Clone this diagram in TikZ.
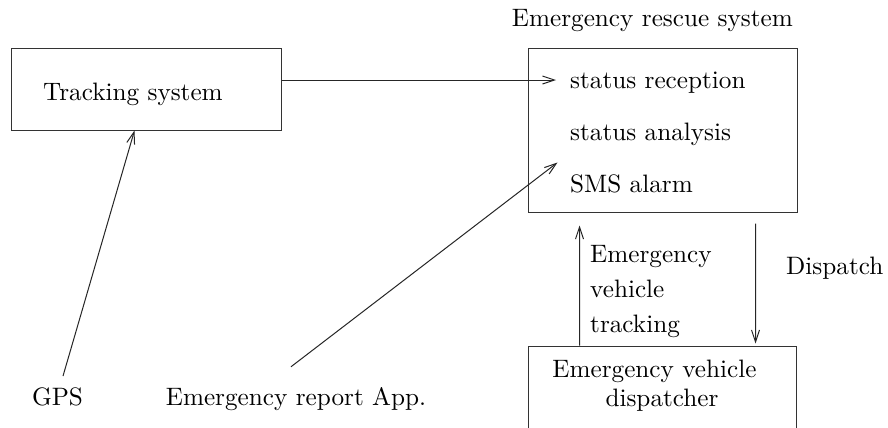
\documentclass[tikz,border=0pt]{standalone}
\usepackage{fontspec}
\setmainfont{lmroman10-regular.otf}
\usetikzlibrary{arrows.meta,calc}
\begin{document}
\begin{tikzpicture}[x=1bp,y=-1bp,
  every node/.style={font=\fontsize{25.2bp}{30bp}\selectfont, text=black},
  txt/.style={anchor=base west, inner sep=0pt},
  ctxt/.style={anchor=base, inner sep=0pt},
  boxnode/.style={draw=black!80, line width=1bp, inner sep=0pt},
  arr/.style={draw=black!85, line width=1bp, -{Straight Barb[length=12bp,width=8bp]}}]
\useasboundingbox (0,0) rectangle (888,427);
\clip (0,0) rectangle (888,427);
\fill[white] (0,0) rectangle (888,427);
% boxes
\node[boxnode, minimum width=269bp, minimum height=82bp] (track) at (146.5,89) {};
\node[boxnode, minimum width=269bp, minimum height=164bp] (rescue) at (662.5,130) {};
\node[boxnode, minimum width=268bp, minimum height=124bp] (disp) at (662,408) {};
% texts
\node[txt] (tracktxt) at (43,100) {Tracking system};
\node[anchor=base east, inner sep=0pt] (title) at (793,26) {Emergency rescue system};
\node[txt] (sr) at (570,88) {status reception};
\node[txt] (sa) at (570,140) {status analysis};
\node[txt] (sms) at (570,192) {SMS alarm};
\node[ctxt] (d1) at (654.5,377) {Emergency vehicle};
\node[ctxt] (d2) at (662,406) {dispatcher};
\node[txt] (t1) at (590,262) {Emergency};
\node[txt] (t2) at (590,297) {vehicle};
\node[txt] (t3) at (590,332) {tracking};
\node[txt] (dispatch) at (786,274) {Dispatch};
\node[ctxt] (gps) at (57.5,405) {GPS};
\node[ctxt] (report) at (296,405) {Emergency report App.};
% connectors
\coordinate (srIn) at ([xshift=-14bp, yshift=8bp]sr.base west);
\draw[arr] (track.east |- srIn) -- (srIn);
\draw[arr] ([xshift=5.5bp, yshift=11bp]gps.north) -- ([xshift=123bp]track.south west);
\draw[arr] ([xshift=-5bp, yshift=20bp]report.north) -- ([xshift=30bp, yshift=50bp]rescue.south west);
\draw[arr] ([xshift=52bp]disp.north west) -- ([xshift=52bp, yshift=-13bp]rescue.south west);
\draw[arr] ([xshift=228bp, yshift=-11bp]rescue.south west) -- ([xshift=228bp, yshift=2bp]disp.north west);
\end{tikzpicture}
\end{document}
